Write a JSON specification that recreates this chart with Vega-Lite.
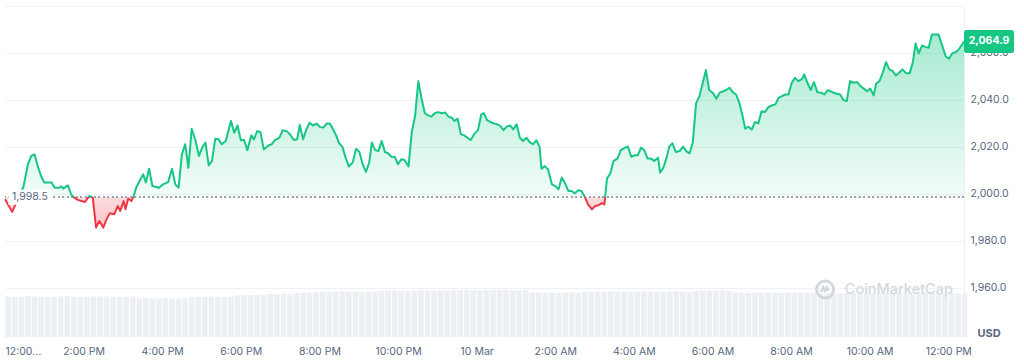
{
  "$schema": "https://vega.github.io/schema/vega-lite/v6.json",
  "width": 959,
  "height": 331,
  "autosize": "none",
  "padding": {"left": 5, "top": 6, "right": 60, "bottom": 25},
  "background": "white",
  "config": {"font": "Inter", "view": {"stroke": null}},
  "datasets": {
    "price": [
      {"t":"2023-03-09T12:00","p":1997.7},{"t":"2023-03-09T12:11","p":1992.3},{"t":"2023-03-09T12:16","p":1995.5},{"t":"2023-03-09T12:22","p":1999.4},
      {"t":"2023-03-09T12:28","p":2002.8},{"t":"2023-03-09T12:35","p":2012.6},{"t":"2023-03-09T12:40","p":2016.1},{"t":"2023-03-09T12:45","p":2016.8},
      {"t":"2023-03-09T12:50","p":2011.8},{"t":"2023-03-09T12:55","p":2007.6},{"t":"2023-03-09T13:00","p":2004.8},{"t":"2023-03-09T13:11","p":2004.8},
      {"t":"2023-03-09T13:16","p":2002.6},{"t":"2023-03-09T13:23","p":2002.6},{"t":"2023-03-09T13:26","p":2003.2},{"t":"2023-03-09T13:29","p":2002.2},
      {"t":"2023-03-09T13:36","p":2003.6},{"t":"2023-03-09T13:41","p":1999.8},{"t":"2023-03-09T13:44","p":1998.8},{"t":"2023-03-09T13:51","p":1997.4},
      {"t":"2023-03-09T14:02","p":1996.5},{"t":"2023-03-09T14:09","p":1999.1},{"t":"2023-03-09T14:14","p":1998.4},{"t":"2023-03-09T14:19","p":1985.6},
      {"t":"2023-03-09T14:24","p":1988.4},{"t":"2023-03-09T14:30","p":1985.6},{"t":"2023-03-09T14:35","p":1989.1},{"t":"2023-03-09T14:40","p":1991.7},
      {"t":"2023-03-09T14:47","p":1991.3},{"t":"2023-03-09T14:52","p":1994.8},{"t":"2023-03-09T14:56","p":1992.7},{"t":"2023-03-09T15:01","p":1996.9},
      {"t":"2023-03-09T15:04","p":1993.4},{"t":"2023-03-09T15:08","p":1998.0},{"t":"2023-03-09T15:13","p":1996.9},{"t":"2023-03-09T15:16","p":1998.8},
      {"t":"2023-03-09T15:21","p":2003.1},{"t":"2023-03-09T15:31","p":2008.3},{"t":"2023-03-09T15:35","p":2004.8},{"t":"2023-03-09T15:40","p":2010.7},
      {"t":"2023-03-09T15:45","p":2003.3},{"t":"2023-03-09T15:55","p":2002.6},{"t":"2023-03-09T16:01","p":2004.0},{"t":"2023-03-09T16:09","p":2005.0},
      {"t":"2023-03-09T16:15","p":2010.7},{"t":"2023-03-09T16:20","p":2004.0},{"t":"2023-03-09T16:25","p":2002.6},{"t":"2023-03-09T16:30","p":2016.8},
      {"t":"2023-03-09T16:35","p":2021.1},{"t":"2023-03-09T16:40","p":2011.1},{"t":"2023-03-09T16:45","p":2027.7},{"t":"2023-03-09T16:51","p":2022.5},
      {"t":"2023-03-09T16:56","p":2016.1},{"t":"2023-03-09T17:01","p":2019.7},{"t":"2023-03-09T17:06","p":2021.8},{"t":"2023-03-09T17:11","p":2012.1},
      {"t":"2023-03-09T17:16","p":2014.0},{"t":"2023-03-09T17:21","p":2023.5},{"t":"2023-03-09T17:26","p":2023.2},{"t":"2023-03-09T17:31","p":2021.1},
      {"t":"2023-03-09T17:37","p":2022.5},{"t":"2023-03-09T17:45","p":2031.0},{"t":"2023-03-09T17:50","p":2026.0},{"t":"2023-03-09T17:55","p":2029.1},
      {"t":"2023-03-09T18:00","p":2022.8},{"t":"2023-03-09T18:05","p":2022.9},{"t":"2023-03-09T18:10","p":2018.6},{"t":"2023-03-09T18:16","p":2024.9},
      {"t":"2023-03-09T18:20","p":2023.2},{"t":"2023-03-09T18:25","p":2026.7},{"t":"2023-03-09T18:30","p":2026.3},{"t":"2023-03-09T18:35","p":2018.9},
      {"t":"2023-03-09T18:42","p":2020.6},{"t":"2023-03-09T18:47","p":2021.1},{"t":"2023-03-09T18:52","p":2022.9},{"t":"2023-03-09T18:59","p":2023.9},
      {"t":"2023-03-09T19:04","p":2027.1},{"t":"2023-03-09T19:10","p":2026.7},{"t":"2023-03-09T19:15","p":2025.3},{"t":"2023-03-09T19:21","p":2022.9},
      {"t":"2023-03-09T19:26","p":2023.2},{"t":"2023-03-09T19:30","p":2029.3},{"t":"2023-03-09T19:35","p":2023.2},{"t":"2023-03-09T19:40","p":2027.4},
      {"t":"2023-03-09T19:45","p":2030.3},{"t":"2023-03-09T19:50","p":2029.1},{"t":"2023-03-09T19:56","p":2029.9},{"t":"2023-03-09T20:01","p":2028.4},
      {"t":"2023-03-09T20:06","p":2028.2},{"t":"2023-03-09T20:11","p":2029.9},{"t":"2023-03-09T20:16","p":2029.9},{"t":"2023-03-09T20:21","p":2027.4},
      {"t":"2023-03-09T20:26","p":2024.6},{"t":"2023-03-09T20:30","p":2021.5},{"t":"2023-03-09T20:35","p":2020.1},{"t":"2023-03-09T20:40","p":2015.4},
      {"t":"2023-03-09T20:45","p":2011.6},{"t":"2023-03-09T20:51","p":2013.5},{"t":"2023-03-09T20:56","p":2019.2},{"t":"2023-03-09T21:01","p":2017.8},
      {"t":"2023-03-09T21:06","p":2012.6},{"t":"2023-03-09T21:11","p":2009.3},{"t":"2023-03-09T21:16","p":2013.3},{"t":"2023-03-09T21:20","p":2021.8},
      {"t":"2023-03-09T21:25","p":2018.6},{"t":"2023-03-09T21:30","p":2018.2},{"t":"2023-03-09T21:35","p":2022.5},{"t":"2023-03-09T21:40","p":2017.8},
      {"t":"2023-03-09T21:45","p":2017.2},{"t":"2023-03-09T21:50","p":2015.8},{"t":"2023-03-09T21:55","p":2015.7},{"t":"2023-03-09T22:00","p":2012.6},
      {"t":"2023-03-09T22:05","p":2014.7},{"t":"2023-03-09T22:10","p":2014.4},{"t":"2023-03-09T22:16","p":2011.6},{"t":"2023-03-09T22:21","p":2026.3},
      {"t":"2023-03-09T22:26","p":2033.1},{"t":"2023-03-09T22:31","p":2048.0},{"t":"2023-03-09T22:36","p":2040.5},{"t":"2023-03-09T22:41","p":2034.3},
      {"t":"2023-03-09T22:46","p":2033.4},{"t":"2023-03-09T22:51","p":2032.9},{"t":"2023-03-09T22:56","p":2034.3},{"t":"2023-03-09T23:01","p":2034.8},
      {"t":"2023-03-09T23:07","p":2034.3},{"t":"2023-03-09T23:12","p":2034.6},{"t":"2023-03-09T23:17","p":2032.9},{"t":"2023-03-09T23:22","p":2032.4},
      {"t":"2023-03-09T23:26","p":2031.0},{"t":"2023-03-09T23:31","p":2032.0},{"t":"2023-03-09T23:36","p":2025.3},{"t":"2023-03-09T23:41","p":2024.9},
      {"t":"2023-03-09T23:46","p":2023.9},{"t":"2023-03-09T23:51","p":2022.9},{"t":"2023-03-09T23:56","p":2025.3},{"t":"2023-03-10T00:02","p":2027.1},
      {"t":"2023-03-10T00:07","p":2033.8},{"t":"2023-03-10T00:11","p":2034.3},{"t":"2023-03-10T00:16","p":2031.4},{"t":"2023-03-10T00:21","p":2030.6},
      {"t":"2023-03-10T00:26","p":2030.0},{"t":"2023-03-10T00:31","p":2029.6},{"t":"2023-03-10T00:36","p":2028.9},{"t":"2023-03-10T00:41","p":2027.1},
      {"t":"2023-03-10T00:46","p":2028.6},{"t":"2023-03-10T00:51","p":2029.1},{"t":"2023-03-10T00:56","p":2027.4},{"t":"2023-03-10T01:01","p":2029.6},
      {"t":"2023-03-10T01:06","p":2023.9},{"t":"2023-03-10T01:11","p":2022.5},{"t":"2023-03-10T01:16","p":2023.9},{"t":"2023-03-10T01:21","p":2022.0},
      {"t":"2023-03-10T01:26","p":2021.1},{"t":"2023-03-10T01:31","p":2022.8},{"t":"2023-03-10T01:36","p":2020.1},{"t":"2023-03-10T01:39","p":2010.7},
      {"t":"2023-03-10T01:44","p":2011.8},{"t":"2023-03-10T01:49","p":2010.4},{"t":"2023-03-10T01:55","p":2004.0},{"t":"2023-03-10T02:00","p":2003.3},
      {"t":"2023-03-10T02:05","p":2001.9},{"t":"2023-03-10T02:10","p":2006.9},{"t":"2023-03-10T02:15","p":2004.5},{"t":"2023-03-10T02:20","p":2001.2},
      {"t":"2023-03-10T02:25","p":2001.2},{"t":"2023-03-10T02:30","p":2000.2},{"t":"2023-03-10T02:35","p":2001.5},{"t":"2023-03-10T02:40","p":2001.2},
      {"t":"2023-03-10T02:45","p":1998.8},{"t":"2023-03-10T02:50","p":1995.5},{"t":"2023-03-10T02:56","p":1993.4},{"t":"2023-03-10T03:01","p":1994.8},
      {"t":"2023-03-10T03:06","p":1995.1},{"t":"2023-03-10T03:11","p":1996.0},{"t":"2023-03-10T03:15","p":1995.5},{"t":"2023-03-10T03:19","p":2006.5},
      {"t":"2023-03-10T03:24","p":2008.7},{"t":"2023-03-10T03:29","p":2014.0},{"t":"2023-03-10T03:35","p":2015.0},{"t":"2023-03-10T03:40","p":2018.6},
      {"t":"2023-03-10T03:47","p":2019.7},{"t":"2023-03-10T03:51","p":2020.1},{"t":"2023-03-10T03:56","p":2015.8},{"t":"2023-03-10T04:01","p":2016.4},
      {"t":"2023-03-10T04:06","p":2016.4},{"t":"2023-03-10T04:11","p":2019.7},{"t":"2023-03-10T04:16","p":2018.6},{"t":"2023-03-10T04:21","p":2015.0},
      {"t":"2023-03-10T04:26","p":2015.0},{"t":"2023-03-10T04:31","p":2014.0},{"t":"2023-03-10T04:37","p":2015.4},{"t":"2023-03-10T04:40","p":2009.0},
      {"t":"2023-03-10T04:45","p":2011.1},{"t":"2023-03-10T04:50","p":2015.4},{"t":"2023-03-10T04:54","p":2020.1},{"t":"2023-03-10T04:59","p":2021.5},
      {"t":"2023-03-10T05:04","p":2017.8},{"t":"2023-03-10T05:10","p":2018.2},{"t":"2023-03-10T05:15","p":2020.1},{"t":"2023-03-10T05:20","p":2018.2},
      {"t":"2023-03-10T05:25","p":2017.2},{"t":"2023-03-10T05:30","p":2022.0},{"t":"2023-03-10T05:35","p":2038.5},{"t":"2023-03-10T05:40","p":2041.6},
      {"t":"2023-03-10T05:45","p":2047.0},{"t":"2023-03-10T05:50","p":2052.7},{"t":"2023-03-10T05:55","p":2044.2},{"t":"2023-03-10T06:01","p":2042.8},
      {"t":"2023-03-10T06:06","p":2040.5},{"t":"2023-03-10T06:11","p":2043.1},{"t":"2023-03-10T06:16","p":2043.6},{"t":"2023-03-10T06:21","p":2044.2},
      {"t":"2023-03-10T06:26","p":2045.2},{"t":"2023-03-10T06:31","p":2043.3},{"t":"2023-03-10T06:36","p":2042.3},{"t":"2023-03-10T06:41","p":2038.8},
      {"t":"2023-03-10T06:46","p":2033.1},{"t":"2023-03-10T06:50","p":2027.7},{"t":"2023-03-10T06:55","p":2028.6},{"t":"2023-03-10T07:00","p":2027.4},
      {"t":"2023-03-10T07:05","p":2030.6},{"t":"2023-03-10T07:10","p":2030.0},{"t":"2023-03-10T07:15","p":2035.2},{"t":"2023-03-10T07:20","p":2034.8},
      {"t":"2023-03-10T07:26","p":2037.1},{"t":"2023-03-10T07:31","p":2037.7},{"t":"2023-03-10T07:36","p":2038.1},{"t":"2023-03-10T07:41","p":2040.9},
      {"t":"2023-03-10T07:46","p":2041.6},{"t":"2023-03-10T07:51","p":2042.3},{"t":"2023-03-10T07:56","p":2042.3},{"t":"2023-03-10T08:01","p":2047.3},
      {"t":"2023-03-10T08:06","p":2049.4},{"t":"2023-03-10T08:11","p":2048.0},{"t":"2023-03-10T08:17","p":2049.0},{"t":"2023-03-10T08:20","p":2050.9},
      {"t":"2023-03-10T08:25","p":2047.3},{"t":"2023-03-10T08:30","p":2044.2},{"t":"2023-03-10T08:35","p":2047.6},{"t":"2023-03-10T08:40","p":2043.3},
      {"t":"2023-03-10T08:46","p":2043.1},{"t":"2023-03-10T08:51","p":2042.3},{"t":"2023-03-10T08:56","p":2044.2},{"t":"2023-03-10T09:00","p":2043.7},
      {"t":"2023-03-10T09:07","p":2042.8},{"t":"2023-03-10T09:15","p":2042.3},{"t":"2023-03-10T09:20","p":2039.9},{"t":"2023-03-10T09:25","p":2039.5},
      {"t":"2023-03-10T09:30","p":2048.0},{"t":"2023-03-10T09:35","p":2047.3},{"t":"2023-03-10T09:41","p":2047.6},{"t":"2023-03-10T09:46","p":2045.9},
      {"t":"2023-03-10T09:51","p":2044.8},{"t":"2023-03-10T09:56","p":2043.7},{"t":"2023-03-10T10:01","p":2044.8},{"t":"2023-03-10T10:06","p":2041.9},
      {"t":"2023-03-10T10:10","p":2047.0},{"t":"2023-03-10T10:15","p":2048.0},{"t":"2023-03-10T10:20","p":2051.6},{"t":"2023-03-10T10:25","p":2056.1},
      {"t":"2023-03-10T10:30","p":2053.0},{"t":"2023-03-10T10:35","p":2052.3},{"t":"2023-03-10T10:40","p":2050.4},{"t":"2023-03-10T10:45","p":2051.6},
      {"t":"2023-03-10T10:50","p":2053.0},{"t":"2023-03-10T10:56","p":2051.3},{"t":"2023-03-10T11:01","p":2051.3},{"t":"2023-03-10T11:06","p":2056.1},
      {"t":"2023-03-10T11:10","p":2064.0},{"t":"2023-03-10T11:15","p":2059.8},{"t":"2023-03-10T11:20","p":2063.2},{"t":"2023-03-10T11:25","p":2062.6},
      {"t":"2023-03-10T11:30","p":2062.2},{"t":"2023-03-10T11:35","p":2067.9},{"t":"2023-03-10T11:40","p":2067.9},{"t":"2023-03-10T11:45","p":2067.9},
      {"t":"2023-03-10T11:51","p":2062.9},{"t":"2023-03-10T11:56","p":2058.6},{"t":"2023-03-10T12:01","p":2057.5},{"t":"2023-03-10T12:06","p":2059.8},
      {"t":"2023-03-10T12:11","p":2060.3},{"t":"2023-03-10T12:16","p":2061.5},{"t":"2023-03-10T12:21","p":2063.6},{"t":"2023-03-10T12:24","p":2064.9}
    ],
    "vol": [
      {"t":"2023-03-09T12:00","v":122},{"t":"2023-03-09T12:10","v":121},{"t":"2023-03-09T12:20","v":122},{"t":"2023-03-09T12:30","v":123},{"t":"2023-03-09T12:40","v":122},
      {"t":"2023-03-09T12:50","v":122},{"t":"2023-03-09T13:00","v":121},{"t":"2023-03-09T13:10","v":122},{"t":"2023-03-09T13:20","v":122},{"t":"2023-03-09T13:30","v":123},
      {"t":"2023-03-09T13:40","v":122},{"t":"2023-03-09T13:50","v":121},{"t":"2023-03-09T14:00","v":122},{"t":"2023-03-09T14:10","v":122},{"t":"2023-03-09T14:20","v":122},
      {"t":"2023-03-09T14:30","v":123},{"t":"2023-03-09T14:40","v":122},{"t":"2023-03-09T14:50","v":121},{"t":"2023-03-09T15:00","v":122},{"t":"2023-03-09T15:10","v":122},
      {"t":"2023-03-09T15:20","v":117},{"t":"2023-03-09T15:30","v":118},{"t":"2023-03-09T15:40","v":117},{"t":"2023-03-09T15:50","v":117},{"t":"2023-03-09T16:00","v":118},
      {"t":"2023-03-09T16:10","v":117},{"t":"2023-03-09T16:20","v":116},{"t":"2023-03-09T16:30","v":117},
      {"t":"2023-03-09T16:40","v":120},{"t":"2023-03-09T16:50","v":121},{"t":"2023-03-09T17:00","v":121},{"t":"2023-03-09T17:10","v":122},{"t":"2023-03-09T17:20","v":121},
      {"t":"2023-03-09T17:30","v":121},{"t":"2023-03-09T17:40","v":122},
      {"t":"2023-03-09T17:50","v":126},{"t":"2023-03-09T18:00","v":127},{"t":"2023-03-09T18:10","v":127},{"t":"2023-03-09T18:20","v":128},{"t":"2023-03-09T18:30","v":127},
      {"t":"2023-03-09T18:40","v":130},{"t":"2023-03-09T18:50","v":130},{"t":"2023-03-09T19:00","v":131},{"t":"2023-03-09T19:10","v":130},
      {"t":"2023-03-09T19:20","v":133},{"t":"2023-03-09T19:30","v":134},{"t":"2023-03-09T19:40","v":134},{"t":"2023-03-09T19:50","v":135},
      {"t":"2023-03-09T20:00","v":137},{"t":"2023-03-09T20:10","v":136},{"t":"2023-03-09T20:20","v":137},{"t":"2023-03-09T20:30","v":138},{"t":"2023-03-09T20:40","v":137},
      {"t":"2023-03-09T20:50","v":137},{"t":"2023-03-09T21:00","v":136},{"t":"2023-03-09T21:10","v":137},{"t":"2023-03-09T21:20","v":138},
      {"t":"2023-03-09T21:30","v":140},{"t":"2023-03-09T21:40","v":140},{"t":"2023-03-09T21:50","v":141},{"t":"2023-03-09T22:00","v":140},{"t":"2023-03-09T22:10","v":139},
      {"t":"2023-03-09T22:20","v":140},{"t":"2023-03-09T22:30","v":141},{"t":"2023-03-09T22:40","v":140},{"t":"2023-03-09T22:50","v":140},{"t":"2023-03-09T23:00","v":141},
      {"t":"2023-03-09T23:10","v":140},
      {"t":"2023-03-09T23:20","v":142},{"t":"2023-03-09T23:30","v":142},{"t":"2023-03-09T23:40","v":143},{"t":"2023-03-09T23:50","v":142},{"t":"2023-03-10T00:00","v":141},
      {"t":"2023-03-10T00:10","v":142},{"t":"2023-03-10T00:20","v":143},{"t":"2023-03-10T00:30","v":142},{"t":"2023-03-10T00:40","v":142},{"t":"2023-03-10T00:50","v":141},
      {"t":"2023-03-10T01:00","v":142},{"t":"2023-03-10T01:10","v":143},
      {"t":"2023-03-10T01:20","v":134},{"t":"2023-03-10T01:30","v":135},{"t":"2023-03-10T01:40","v":134},{"t":"2023-03-10T01:50","v":134},{"t":"2023-03-10T02:00","v":133},
      {"t":"2023-03-10T02:10","v":134},{"t":"2023-03-10T02:20","v":135},{"t":"2023-03-10T02:30","v":134},
      {"t":"2023-03-10T02:40","v":137},{"t":"2023-03-10T02:50","v":136},{"t":"2023-03-10T03:00","v":137},{"t":"2023-03-10T03:10","v":137},{"t":"2023-03-10T03:20","v":138},
      {"t":"2023-03-10T03:30","v":137},{"t":"2023-03-10T03:40","v":136},{"t":"2023-03-10T03:50","v":137},{"t":"2023-03-10T04:00","v":137},{"t":"2023-03-10T04:10","v":138},
      {"t":"2023-03-10T04:20","v":137},{"t":"2023-03-10T04:30","v":136},{"t":"2023-03-10T04:40","v":137},{"t":"2023-03-10T04:50","v":137},{"t":"2023-03-10T05:00","v":138},
      {"t":"2023-03-10T05:10","v":137},{"t":"2023-03-10T05:20","v":137},
      {"t":"2023-03-10T05:30","v":140},{"t":"2023-03-10T05:40","v":141},{"t":"2023-03-10T05:50","v":140},{"t":"2023-03-10T06:00","v":140},{"t":"2023-03-10T06:10","v":141},
      {"t":"2023-03-10T06:20","v":140},
      {"t":"2023-03-10T06:30","v":134},{"t":"2023-03-10T06:40","v":134},{"t":"2023-03-10T06:50","v":133},{"t":"2023-03-10T07:00","v":134},{"t":"2023-03-10T07:10","v":135},
      {"t":"2023-03-10T07:20","v":134},{"t":"2023-03-10T07:30","v":134},{"t":"2023-03-10T07:40","v":133},{"t":"2023-03-10T07:50","v":134},{"t":"2023-03-10T08:00","v":134},
      {"t":"2023-03-10T08:10","v":135},{"t":"2023-03-10T08:20","v":134},{"t":"2023-03-10T08:30","v":134},
      {"t":"2023-03-10T08:40","v":132},{"t":"2023-03-10T08:50","v":132},{"t":"2023-03-10T09:00","v":131},{"t":"2023-03-10T09:10","v":132},{"t":"2023-03-10T09:20","v":133},
      {"t":"2023-03-10T09:30","v":132},{"t":"2023-03-10T09:40","v":132},{"t":"2023-03-10T09:50","v":131},{"t":"2023-03-10T10:00","v":132},{"t":"2023-03-10T10:10","v":132},
      {"t":"2023-03-10T10:20","v":133},{"t":"2023-03-10T10:30","v":132},{"t":"2023-03-10T10:40","v":132},{"t":"2023-03-10T10:50","v":131},{"t":"2023-03-10T11:00","v":132},
      {"t":"2023-03-10T11:10","v":132},{"t":"2023-03-10T11:20","v":133},{"t":"2023-03-10T11:30","v":132},{"t":"2023-03-10T11:40","v":132},{"t":"2023-03-10T11:50","v":131},
      {"t":"2023-03-10T12:00","v":132},{"t":"2023-03-10T12:10","v":132},{"t":"2023-03-10T12:20","v":132}
    ],
    "open": [{"t":"2023-03-09T12:38","p":1998.5,"label":"1,998.5"}],
    "last": [{"t":"2023-03-10T12:24","p":2064.9,"label":"2,064.9"}],
    "brand": [{"t":"2023-03-10T08:52","p":1959.2,"tt":"2023-03-10T09:22","label":"CoinMarketCap"}]
  },
  "layer": [
    {
      "data": {"name": "vol"},
      "mark": {"type": "bar", "width": 5.6, "xOffset": 3.27, "color": "#eceff3"},
      "encoding": {
        "x": {
          "field": "t", "type": "temporal",
          "scale": {"domain": [{"year":2023,"month":3,"date":9,"hours":12},{"year":2023,"month":3,"date":10,"hours":12,"minutes":24}], "padding": 0},
          "axis": {
            "values": [
              {"year":2023,"month":3,"date":9,"hours":12},{"year":2023,"month":3,"date":9,"hours":14},{"year":2023,"month":3,"date":9,"hours":16},
              {"year":2023,"month":3,"date":9,"hours":18},{"year":2023,"month":3,"date":9,"hours":20},{"year":2023,"month":3,"date":9,"hours":22},
              {"year":2023,"month":3,"date":10,"hours":0},{"year":2023,"month":3,"date":10,"hours":2},{"year":2023,"month":3,"date":10,"hours":4},
              {"year":2023,"month":3,"date":10,"hours":6},{"year":2023,"month":3,"date":10,"hours":8},{"year":2023,"month":3,"date":10,"hours":10},
              {"year":2023,"month":3,"date":10,"hours":12}
            ],
            "labelExpr": "hours(datum.value) == 0 ? timeFormat(datum.value, '%-d %b') : (date(datum.value) == 9 && hours(datum.value) == 12 ? '12:00…' : timeFormat(datum.value, '%-I:%M %p'))",
            "labelAlign": {"condition": {"test": "date(datum.value) == 9 && hours(datum.value) == 12", "value": "left"}, "value": "center"},
            "labelOverlap": false,
            "labelFontSize": 10.5,
            "labelColor": "#58667e",
            "labelPadding": 9,
            "ticks": false,
            "tickSize": 0,
            "domain": false,
            "grid": false,
            "title": null
          }
        },
        "y": {"field": "v", "type": "quantitative", "scale": {"domain": [0, 1000]}, "axis": null}
      }
    },
    {
      "layer": [
        {
          "data": {"name": "price"},
          "mark": {
            "type": "area", "line": false, "interpolate": "linear",
            "fill": {"gradient": "linear", "x1": 0, "y1": 0, "x2": 0, "y2": 1, "stops": [
              {"offset": 0, "color": "rgba(22,199,132,0.38)"},
              {"offset": 0.8432, "color": "rgba(22,199,132,0.05)"},
              {"offset": 0.8432, "color": "rgba(234,57,67,0.18)"},
              {"offset": 1, "color": "rgba(234,57,67,0.3)"}
            ]}
          },
          "encoding": {
            "x": {"field": "t", "type": "temporal"},
            "y": {
              "field": "p", "type": "quantitative",
              "scale": {"domain": [1939, 2080], "zero": false, "nice": false},
              "axis": {
                "orient": "right",
                "values": [1960, 1980, 2000, 2020, 2040, 2060, 2080],
                "format": ",.1f",
                "labelExpr": "datum.value >= 2080 ? '' : datum.label",
                "labelFontSize": 10.5,
                "labelColor": "#58667e",
                "labelPadding": 6,
                "ticks": false,
                "tickSize": 0,
                "domain": true,
                "domainColor": "#eceff3",
                "grid": true,
                "gridColor": "#eff2f5",
                "title": "USD",
                "titleAngle": 0,
                "titleAlign": "left",
                "titleBaseline": "middle",
                "titleX": 13,
                "titleY": 327,
                "titleFontSize": 11,
                "titleFontWeight": "bold",
                "titleColor": "#58667e"
              }
            },
            "y2": {"datum": 1998.5}
          }
        },
        {
          "data": {"name": "price"},
          "mark": {"type": "rule", "strokeDash": [1.5, 3], "stroke": "#9aa3b2", "strokeWidth": 1},
          "encoding": {"y": {"datum": 1998.5}}
        },
        {
          "data": {"name": "price"},
          "mark": {
            "type": "line", "interpolate": "linear", "strokeWidth": 2, "strokeJoin": "round",
            "stroke": {"gradient": "linear", "x1": 0, "y1": 0, "x2": 0, "y2": 1, "stops": [
              {"offset": 0, "color": "#16c784"},
              {"offset": 0.8432, "color": "#16c784"},
              {"offset": 0.8432, "color": "#ea3943"},
              {"offset": 1, "color": "#ea3943"}
            ]}
          },
          "encoding": {"x": {"field": "t", "type": "temporal"}, "y": {"field": "p", "type": "quantitative"}}
        },
        {
          "data": {"name": "open"},
          "mark": {"type": "point", "shape": "M-1,-0.35H1V0.35H-1Z", "size": 1849, "filled": true, "fill": "white", "opacity": 1, "strokeWidth": 0},
          "encoding": {"x": {"field": "t", "type": "temporal"}, "y": {"field": "p", "type": "quantitative"}}
        },
        {
          "data": {"name": "open"},
          "mark": {"type": "text", "align": "center", "baseline": "middle", "fontSize": 10.5, "color": "#58667e"},
          "encoding": {"x": {"field": "t", "type": "temporal"}, "y": {"field": "p", "type": "quantitative"}, "text": {"field": "label"}}
        },
        {
          "data": {"name": "last"},
          "mark": {"type": "point", "shape": "M-0.9,-0.46H0.9Q1,-0.46 1,-0.36V0.36Q1,0.46 0.9,0.46H-0.9Q-1,0.46 -1,0.36V-0.36Q-1,-0.46 -0.9,-0.46Z", "size": 2500, "filled": true, "fill": "#16c784", "opacity": 1, "strokeWidth": 0, "xOffset": 25},
          "encoding": {"x": {"field": "t", "type": "temporal"}, "y": {"field": "p", "type": "quantitative"}}
        },
        {
          "data": {"name": "last"},
          "mark": {"type": "text", "align": "center", "baseline": "middle", "fontSize": 10.5, "fontWeight": "bold", "color": "white", "xOffset": 25},
          "encoding": {"x": {"field": "t", "type": "temporal"}, "y": {"field": "p", "type": "quantitative"}, "text": {"field": "label"}}
        },
        {
          "data": {"name": "brand"},
          "mark": {"type": "point", "shape": "circle", "size": 290, "filled": false, "stroke": "#d3d8e0", "strokeWidth": 3, "opacity": 1},
          "encoding": {"x": {"field": "t", "type": "temporal"}, "y": {"field": "p", "type": "quantitative"}}
        },
        {
          "data": {"name": "brand"},
          "mark": {"type": "point", "shape": "M-0.75,0.45L-0.35,-0.4L0,0.25L0.35,-0.4L0.6,0.2", "size": 120, "filled": false, "stroke": "#d3d8e0", "strokeWidth": 2.5, "opacity": 1},
          "encoding": {"x": {"field": "t", "type": "temporal"}, "y": {"field": "p", "type": "quantitative"}}
        },
        {
          "data": {"name": "brand"},
          "mark": {"type": "text", "align": "left", "baseline": "middle", "fontSize": 14.5, "fontWeight": 500, "color": "#d3d8e0"},
          "encoding": {"x": {"field": "tt", "type": "temporal"}, "y": {"field": "p", "type": "quantitative"}, "text": {"field": "label"}}
        }
      ]
    }
  ],
  "resolve": {"scale": {"y": "independent"}}
}
